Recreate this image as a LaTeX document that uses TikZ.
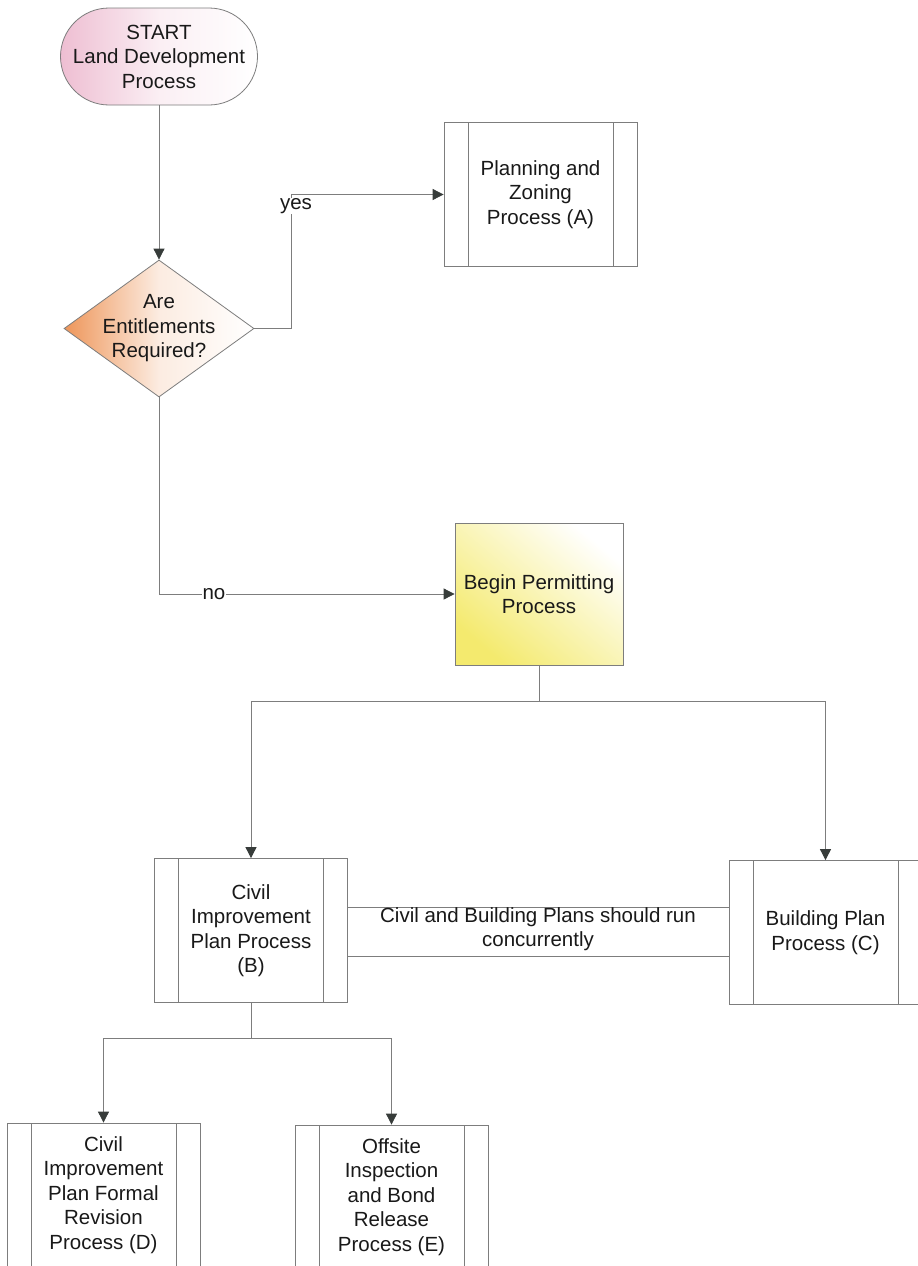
\documentclass[tikz,border=0pt]{standalone}
\usepackage{fontspec}
\setmainfont{Liberation Sans}
\usetikzlibrary{arrows.meta,shapes.geometric,shapes.misc,calc}

\definecolor{linec}{RGB}{125,125,125}
\definecolor{arrc}{RGB}{55,60,58}
\definecolor{txtc}{RGB}{25,25,25}
\definecolor{pinkc}{RGB}{238,190,210}
\definecolor{orangec}{RGB}{238,150,90}
\definecolor{yellowc}{RGB}{244,234,110}

\tikzset{
  every node/.style={font=\fontsize{20.5}{24.5}\selectfont, text=txtc},
  conn/.style={draw=linec, line width=0.8pt},
  arr/.style={-{Triangle[width=11pt,length=11pt,color=arrc,fill=arrc]}},
  procbox/.style={draw=linec, line width=0.8pt, fill=white, inner sep=0pt,
    minimum width=193pt, minimum height=144pt, align=center,
    path picture={\draw[draw=linec, line width=0.8pt]
      ([xshift=24pt]path picture bounding box.north west) --
      ([xshift=24pt]path picture bounding box.south west)
      ([xshift=-24pt]path picture bounding box.north east) --
      ([xshift=-24pt]path picture bounding box.south east);}},
  lbl/.style={fill=white, inner sep=0.5pt}
}

\begin{document}
\begin{tikzpicture}[x=1pt,y=-1pt]
\fill[white] (0,0) rectangle (918,1266);
\useasboundingbox (0,0) rectangle (918,1266);

% start terminal
\node[rounded rectangle, draw=linec, line width=0.8pt, inner sep=0pt,
      minimum width=197pt, minimum height=97pt, align=center,
      left color=pinkc, right color=white, middle color=pinkc!25!white]
  (start) at (159,56.5) {START\\Land Development\\Process};

% decision
\node[diamond, draw=linec, line width=0.8pt, inner sep=0pt,
      minimum width=190pt, minimum height=137pt,
      left color=orangec, right color=white, middle color=orangec!18!white,
      label={[align=center]center:Are\\Entitlements\\Required?}]
  (dec) at (159,328.5) {};

% process boxes
\node[procbox] (A) at (540.5,194.5) {Planning and\\Zoning\\Process (A)};

\node[draw=linec, line width=0.8pt, inner sep=0pt,
      minimum width=168pt, minimum height=142pt, align=center,
      shading=axis, top color=white, bottom color=yellowc, shading angle=-40]
  (perm) at (539,594) {Begin Permitting\\Process};

\node[procbox] (B) at (251,930.5) {Civil\\Improvement\\Plan Process\\(B)};
\node[procbox] (C) at (825.5,932.5) {Building Plan\\Process (C)};
\node[procbox] (D) at (103.5,1195) {Civil\\Improvement\\Plan Formal\\Revision\\Process (D)};
\node[procbox] (E) at (391.5,1197) {Offsite\\Inspection\\and Bond\\Release\\Process (E)};

% connectors
\draw[conn, arr] (start.south) -- (dec.north);
\draw[conn, arr] (dec.east) -- ++(37,0) |- (A.west);
\node[lbl] (yes) at (296,206) {yes};
\draw[conn, arr] (dec.south) |- (perm.west);
\node[lbl] (no) at (214,594) {no};

\draw[conn] (perm.south) -- ++(0,36) coordinate (split);
\draw[conn, arr] (split) -| (B.north);
\draw[conn, arr] (split) -| (C.north);

\draw[conn] (B.south) -- ++(0,35) coordinate (splitb);
\draw[conn, arr] (splitb) -| (D.north);
\draw[conn, arr] (splitb) -| (E.north);

% concurrency band between B and C
\coordinate (bandtop) at (0,907);
\coordinate (bandbot) at (0,956);
\draw[conn] (B.east |- bandtop) -- (C.west |- bandtop);
\draw[conn] (B.east |- bandbot) -- (C.west |- bandbot);
\node[align=center] (conc) at (538,929) {Civil and Building Plans should run\\concurrently};
\end{tikzpicture}
\end{document}
